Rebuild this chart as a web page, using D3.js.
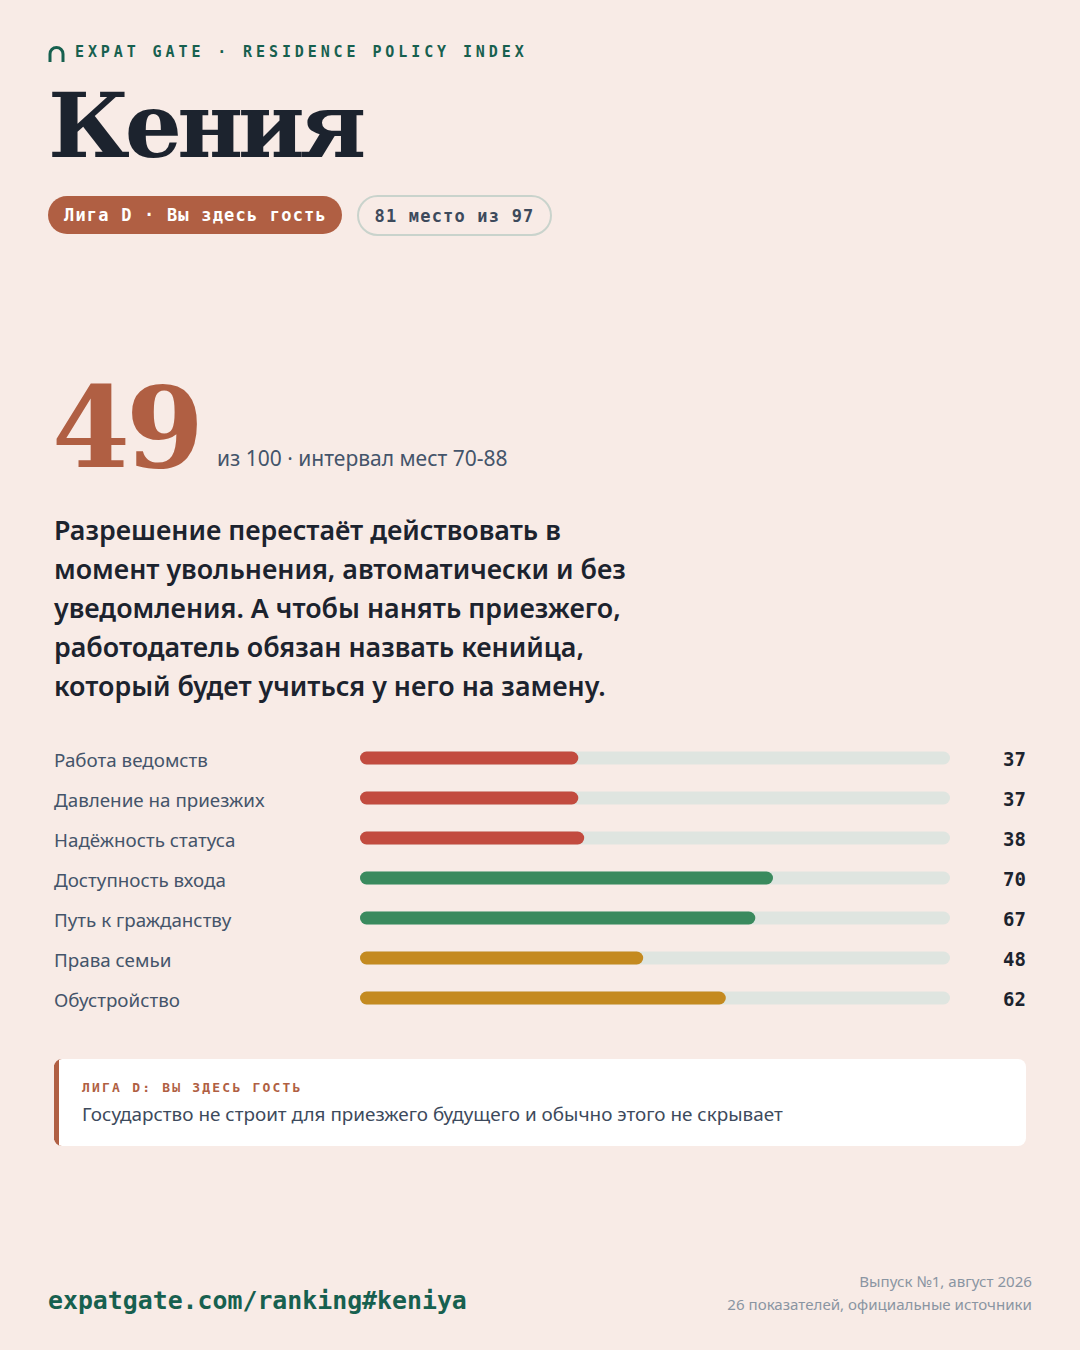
<!DOCTYPE html>
<html>
<head>
<meta charset="utf-8">
<script src="https://cdn.jsdelivr.net/npm/d3@7"></script>
<style>
  html, body { margin: 0; padding: 0; background: #f8ebe6; }
  svg { display: block; }
  .mono { font-family: "DejaVu Sans Mono", "Liberation Mono", monospace; font-weight: bold; }
  .sans { font-family: "Noto Sans", "Open Sans", sans-serif; }
  .serif { font-family: "DejaVu Serif", "Liberation Serif", serif; font-weight: bold; }
</style>
</head>
<body>
<script>
const width = 1080;
const height = 1350;

// data
const country = "Кения";
const league = "Лига D · Вы здесь гость";
const rankText = "81 место из 97";
const score = 49;
const scoreNote = "из 100 · интервал мест 70-88";
const quoteLines = [
  "Разрешение перестаёт действовать в",
  "момент увольнения, автоматически и без",
  "уведомления. А чтобы нанять приезжего,",
  "работодатель обязан назвать кенийца,",
  "который будет учиться у него на замену."
];
const categories = ["Работа ведомств", "Давление на приезжих", "Надёжность статуса", "Доступность входа", "Путь к гражданству", "Права семьи", "Обустройство"];
const values = [37, 37, 38, 70, 67, 48, 62];
const tiers = ["low", "low", "low", "high", "high", "mid", "mid"];
const calloutTitle = "ЛИГА D: ВЫ ЗДЕСЬ ГОСТЬ";
const calloutText = "Государство не строит для приезжего будущего и обычно этого не скрывает";
const footerUrl = "expatgate.com/ranking#keniya";
const footerNotes = ["Выпуск №1, август 2026", "26 показателей, официальные источники"];

const teal = "#17604f";
const rust = "#b05f43";
const ink = "#1c232e";
const slate = "#44546a";
const tierColor = d3.scaleOrdinal().domain(["low", "mid", "high"]).range(["#c24b3f", "#c48a20", "#3a8a5e"]);

const svg = d3.select("body").append("svg")
  .attr("width", width)
  .attr("height", height)
  .attr("viewBox", [0, 0, width, height]);

svg.append("rect").attr("width", width).attr("height", height).attr("fill", "#f8ebe6");

// header
svg.append("path")
  .attr("d", "M50,62 V54 A6.5,6.5 0 0 1 63,54 V62")
  .attr("fill", "none")
  .attr("stroke", teal)
  .attr("stroke-width", 3);

svg.append("text")
  .attr("class", "mono")
  .attr("x", 75).attr("y", 57)
  .attr("font-size", 15)
  .attr("letter-spacing", 3.9)
  .attr("fill", teal)
  .text("EXPAT GATE · RESIDENCE POLICY INDEX");

svg.append("text")
  .attr("class", "serif")
  .attr("x", 48).attr("y", 157)
  .attr("font-size", 90)
  .attr("letter-spacing", -5)
  .attr("fill", ink)
  .text(country);

// pills
const pill1 = svg.append("g").attr("transform", "translate(48,196)");
pill1.append("rect").attr("width", 294).attr("height", 38).attr("rx", 19).attr("fill", rust);
pill1.append("text").attr("class", "mono")
  .attr("x", 147.5).attr("y", 25)
  .attr("text-anchor", "middle")
  .attr("font-size", 17).attr("letter-spacing", 1.2)
  .attr("fill", "#fff")
  .text(league);

const pill2 = svg.append("g").attr("transform", "translate(357,195)");
pill2.append("rect").attr("x", 1).attr("y", 1).attr("width", 193).attr("height", 39).attr("rx", 19.5)
  .attr("fill", "none").attr("stroke", "#c9d3cc").attr("stroke-width", 2);
pill2.append("text").attr("class", "mono")
  .attr("x", 97.5).attr("y", 26.5)
  .attr("text-anchor", "middle")
  .attr("font-size", 17).attr("letter-spacing", 1.2)
  .attr("fill", "#3d4a5c")
  .text(rankText);

// score
svg.append("text")
  .attr("class", "serif")
  .attr("x", 52).attr("y", 467)
  .attr("font-size", 112)
  .attr("letter-spacing", -4)
  .attr("fill", rust)
  .text(score);

svg.append("text")
  .attr("class", "sans")
  .attr("x", 217).attr("y", 466)
  .attr("font-size", 21)
  .attr("fill", slate)
  .text(scoreNote);

// quote
svg.append("g")
  .selectAll("text")
  .data(quoteLines)
  .join("text")
  .attr("class", "sans")
  .attr("x", 54)
  .attr("y", (d, i) => 540 + i * 39)
  .attr("font-size", 26.8)
  .attr("font-weight", 600)
  .attr("fill", ink)
  .text(d => d);

// bars
const x = d3.scaleLinear().domain([0, 100]).range([360, 950]);
const y = d3.scaleBand().domain(categories).range([739, 1019]).padding(0);
const barH = 13;

const rows = svg.append("g")
  .selectAll("g")
  .data(categories.map((c, i) => ({ name: c, value: values[i], tier: tiers[i] })))
  .join("g")
  .attr("transform", d => `translate(0,${y(d.name) + y.bandwidth() / 2})`);

rows.append("rect")
  .attr("x", x(0)).attr("y", -barH / 2 - 1)
  .attr("width", x(100) - x(0)).attr("height", barH)
  .attr("rx", barH / 2)
  .attr("fill", "#dfe5e0");

rows.append("rect")
  .attr("x", x(0)).attr("y", -barH / 2 - 1)
  .attr("width", d => x(d.value) - x(0)).attr("height", barH)
  .attr("rx", barH / 2)
  .attr("fill", d => tierColor(d.tier));

rows.append("text")
  .attr("class", "sans")
  .attr("x", 54).attr("y", 8)
  .attr("font-size", 18.8)
  .attr("fill", slate)
  .text(d => d.name);

rows.append("text")
  .attr("class", "mono")
  .attr("x", 1026).attr("y", 7)
  .attr("text-anchor", "end")
  .attr("font-size", 19)
  .attr("fill", ink)
  .text(d => d.value);

// callout
const callout = svg.append("g").attr("transform", "translate(54,1059)");
callout.append("rect").attr("width", 972).attr("height", 87).attr("rx", 8).attr("fill", "#fff");
callout.append("path")
  .attr("d", "M8,0 A8,8 0 0 0 0,8 V79 A8,8 0 0 0 8,87 H5 V0 Z")
  .attr("fill", rust);
callout.append("rect").attr("x", 0).attr("y", 6).attr("width", 5).attr("height", 75).attr("fill", rust);
callout.append("text").attr("class", "mono")
  .attr("x", 28).attr("y", 33)
  .attr("font-size", 13).attr("letter-spacing", 2.2)
  .attr("fill", rust)
  .text(calloutTitle);
callout.append("text").attr("class", "sans")
  .attr("x", 28).attr("y", 62)
  .attr("font-size", 18.9)
  .attr("fill", "#3d4a5c")
  .text(calloutText);

// footer
svg.append("text")
  .attr("class", "mono")
  .attr("x", 48).attr("y", 1309)
  .attr("font-size", 24.85)
  .attr("fill", teal)
  .text(footerUrl);

svg.append("g")
  .selectAll("text")
  .data(footerNotes)
  .join("text")
  .attr("class", "sans")
  .attr("x", 1032)
  .attr("y", (d, i) => 1287 + i * 23)
  .attr("text-anchor", "end")
  .attr("font-size", 15.1)
  .attr("fill", "#8a95a2")
  .text(d => d);
</script>
</body>
</html>
